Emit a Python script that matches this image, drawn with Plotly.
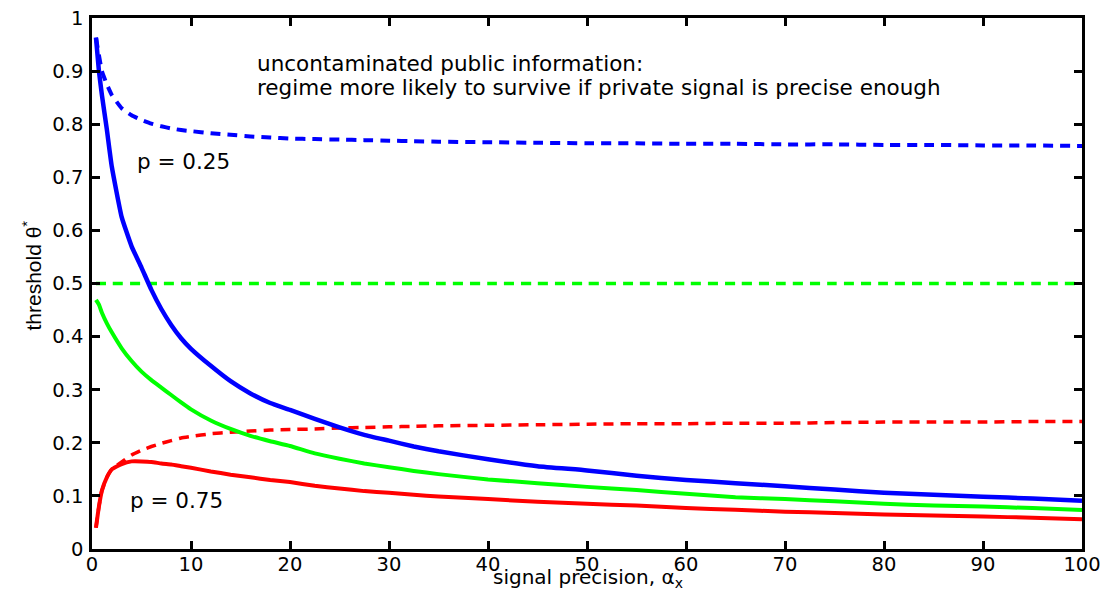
import plotly.graph_objects as go

# x grid: signal precision alpha_x
alpha_x = [0.4, 0.7, 1, 1.5, 2, 3, 4, 5, 6, 7, 8, 9, 10, 12, 14, 16, 18, 20, 22.5, 25,
           27.5, 30, 32.5, 35, 40, 45, 50, 55, 60, 65, 70, 75, 80, 85, 90, 95, 100]

# p = 0.25 (blue)
blue_solid = [0.963, 0.90, 0.855, 0.79, 0.72, 0.625, 0.57, 0.53, 0.488, 0.452, 0.422, 0.397,
              0.377, 0.345, 0.316, 0.293, 0.275, 0.262, 0.245, 0.229, 0.215, 0.204, 0.193,
              0.184, 0.169, 0.156, 0.148, 0.138, 0.130, 0.124, 0.118, 0.112, 0.106, 0.102,
              0.0985, 0.095, 0.091]
blue_dashed = [0.963, 0.93, 0.90, 0.875, 0.855, 0.83, 0.817, 0.808, 0.801, 0.796, 0.792, 0.789,
               0.787, 0.783, 0.780, 0.777, 0.775, 0.773, 0.772, 0.771, 0.770, 0.769, 0.768,
               0.767, 0.766, 0.765, 0.764, 0.764, 0.763, 0.763, 0.762, 0.762, 0.761, 0.761,
               0.760, 0.760, 0.759]

# p = 0.5 (green)
green_solid = [0.469, 0.46, 0.445, 0.425, 0.408, 0.378, 0.354, 0.334, 0.318, 0.304, 0.29, 0.276,
               0.263, 0.242, 0.226, 0.213, 0.203, 0.194, 0.180, 0.170, 0.161, 0.154, 0.147,
               0.141, 0.131, 0.124, 0.117, 0.111, 0.104, 0.0975, 0.094, 0.090, 0.085, 0.082,
               0.080, 0.077, 0.0734]
green_dashed = [0.5] * len(alpha_x)

# p = 0.75 (red)
red_solid = [0.04, 0.08, 0.11, 0.135, 0.15, 0.16, 0.165, 0.165, 0.164, 0.161, 0.159, 0.156,
             0.153, 0.146, 0.140, 0.135, 0.130, 0.126, 0.119, 0.114, 0.109, 0.106, 0.102,
             0.099, 0.094, 0.089, 0.085, 0.082, 0.077, 0.074, 0.070, 0.068, 0.065, 0.063,
             0.061, 0.059, 0.056]
red_dashed = [0.04, 0.08, 0.11, 0.135, 0.15, 0.164, 0.177, 0.186, 0.193, 0.199, 0.204, 0.209,
              0.212, 0.217, 0.220, 0.222, 0.224, 0.225, 0.226, 0.228, 0.229, 0.230, 0.231,
              0.232, 0.233, 0.234, 0.235, 0.236, 0.236, 0.237, 0.237, 0.238, 0.239, 0.239,
              0.239, 0.240, 0.240]

x_ticks = list(range(0, 101, 10))
y_ticks = [0, 0.1, 0.2, 0.3, 0.4, 0.5, 0.6, 0.7, 0.8, 0.9, 1]
y_ticklabels = ["0", "0.1", "0.2", "0.3", "0.4", "0.5", "0.6", "0.7", "0.8", "0.9", "1"]

FONT = "DejaVu Sans, Liberation Sans, sans-serif"
YFONT = "Liberation Sans, Arial, sans-serif"
DASH = "10px,7px"

fig = go.Figure()
series = [
    (green_dashed, "#00ff00", DASH, 3.5),
    (blue_dashed, "#0000ff", DASH, 4),
    (red_dashed, "#ff0000", DASH, 3.5),
    (blue_solid, "#0000ff", "solid", 4.5),
    (green_solid, "#00ff00", "solid", 4),
    (red_solid, "#ff0000", "solid", 4),
]
for ys, col, dash, w in series:
    fig.add_trace(go.Scatter(x=alpha_x, y=ys, mode="lines",
                             line=dict(color=col, width=w, dash=dash, shape="spline",
                                       smoothing=0.4),
                             showlegend=False, hoverinfo="skip"))

axis_common = dict(showline=True, linecolor="black", linewidth=2.5, mirror="ticks",
                   ticks="inside", ticklen=8, tickwidth=2.5, tickcolor="black",
                   showgrid=False, zeroline=False, automargin=False,
                   tickfont=dict(family=FONT, size=19.5, color="black"))

fig.update_xaxes(range=[0, 100], tickvals=x_ticks, ticktext=[str(v) for v in x_ticks],
                 ticklabelstandoff=-4, **axis_common)
fig.update_yaxes(range=[0, 1], tickvals=y_ticks, ticktext=y_ticklabels,
                 ticklabelstandoff=2, **axis_common)

TXT = dict(family=FONT, size=21.5, color="black")
annotations = [
    dict(text="uncontaminated public information:", x=0.165, y=0.915, xref="paper",
         yref="paper", xanchor="left", yanchor="middle", showarrow=False, font=TXT),
    dict(text="regime more likely to survive if private signal is precise enough", x=0.165,
         y=0.870, xref="paper", yref="paper", xanchor="left", yanchor="middle",
         showarrow=False, font=TXT),
    dict(text="p = 0.25", x=4.35, y=0.729, xref="x", yref="y", xanchor="left",
         yanchor="middle", showarrow=False, font=TXT),
    dict(text="p = 0.75", x=3.65, y=0.092, xref="x", yref="y", xanchor="left",
         yanchor="middle", showarrow=False, font=TXT),
    dict(text="signal precision, α<sub>x</sub>", x=0.501, y=0, xref="paper", yref="paper",
         xanchor="center", yanchor="top", yshift=-14, showarrow=False,
         font=dict(family=FONT, size=20, color="black")),
    dict(text="threshold θ<sup>*</sup>", x=0, y=0.515, xref="paper", yref="paper",
         xanchor="center", yanchor="middle", xshift=-60, textangle=-90, showarrow=False,
         font=dict(family=YFONT, size=21, color="black")),
]

fig.update_layout(width=1105, height=590, autosize=False,
                  margin=dict(l=92, r=23, t=18, b=41),
                  paper_bgcolor="white", plot_bgcolor="white",
                  annotations=annotations, showlegend=False)

fig.write_html("out.html")
